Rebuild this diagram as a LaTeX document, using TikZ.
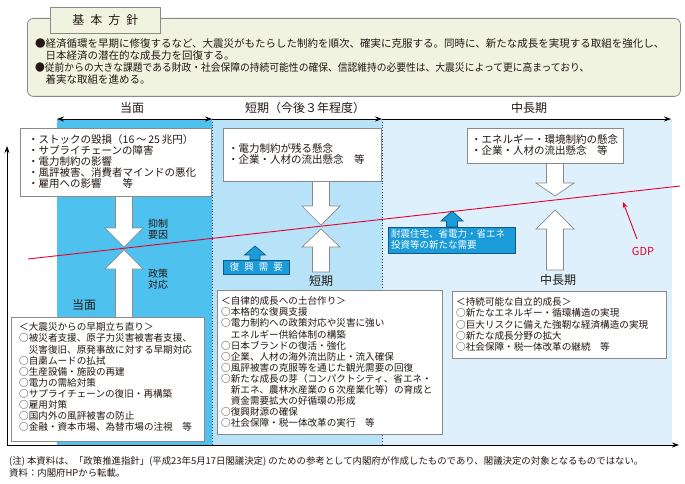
\documentclass[tikz,border=0pt]{standalone}
\usepackage{fontspec}
\setmainfont{Noto Sans CJK JP}
\usetikzlibrary{arrows.meta}
\definecolor{colA}{HTML}{4EC1EE}
\definecolor{colB}{HTML}{B7E2F8}
\definecolor{colC}{HTML}{DDF0FB}
\definecolor{topfill}{HTML}{EFF3DF}
\definecolor{boxline}{HTML}{8A8A8A}
\definecolor{navy}{HTML}{1F3C78}
\definecolor{lblue}{HTML}{1B9BD8}
\definecolor{lblueline}{HTML}{0E5A8C}
\definecolor{gdpred}{HTML}{E5002D}
\definecolor{txtc}{HTML}{231815}
\newcommand\fsz[1]{\fontsize{#1}{#1}\selectfont}
\newcommand\fatdn[4]{\draw[warrow] ({#1-8.5},#2) -- ({#1+8.5},#2) -- ({#1+8.5},#3) -- ({#1+19},#3) -- (#1,#4) -- ({#1-19},#3) -- ({#1-8.5},#3) -- cycle;}
\newcommand\fatup[4]{\draw[warrow] ({#1-8.5},#4) -- ({#1-8.5},#3) -- ({#1-19},#3) -- (#1,#2) -- ({#1+19},#3) -- ({#1+8.5},#3) -- ({#1+8.5},#4) -- cycle;}
\newcommand\blueup[6]{\draw[barrow] ({#1-#6},#4) -- ({#1-#6},#3) -- ({#1-#5},#3) -- (#1,#2) -- ({#1+#5},#3) -- ({#1+#6},#3) -- ({#1+#6},#4) -- cycle;}
\begin{document}
\begin{tikzpicture}[x=1pt,y=-1pt,
  box/.style={draw=boxline, fill=white, line width=0.8pt, inner sep=0pt, anchor=north west},
  jl/.style={anchor=base west, inner sep=0pt, text=txtc},
  lbl/.style={inner sep=0pt, text=txtc},
  warrow/.style={draw=boxline, fill=white, line width=0.7pt, line join=miter},
  barrow/.style={draw=lblueline, fill=lblue, line width=0.7pt},
  bbox/.style={draw=lblueline, fill=lblue, line width=0.7pt, inner sep=0pt, anchor=north west},
  tline/.style={line width=0.8pt, black},
  dotline/.style={navy, line width=0.8pt, dotted}]
\useasboundingbox (0,0) rectangle (685,484);
\fill[white] (0,0) rectangle (685,484);

% ---------- basic policy box ----------
\node[draw=boxline, fill=topfill, line width=0.8pt, rounded corners=6pt, inner sep=0pt,
  anchor=north west, minimum width=653pt, minimum height=78pt] (policy) at (27,18) {};
\node[draw=boxline, fill=topfill, line width=0.8pt, inner sep=0pt, anchor=north west,
  minimum width=110pt, minimum height=26pt] (tab) at (50,7) {};
\node[lbl, font=\fsz{12}] (tabt) at (tab.center) {基\hspace{6pt}本\hspace{6pt}方\hspace{6pt}針};
\node[jl, font=\fsz{10.5}] (p1) at (35,48) {●経済循環を早期に修復するなど、大震災がもたらした制約を順次、確実に克服する。同時に、新たな成長を実現する取組を強化し、};
\node[jl, font=\fsz{10.5}] (p2) at (35,60) {\hspace*{10.5pt}日本経済の潜在的な成長力を回復する。};
\node[jl, font=\fsz{10.5}] (p3) at (35,72) {\scalebox{0.93}[1]{●従前からの大きな課題である財政・社会保障の持続可能性の確保、信認維持の必要性は、大震災によって更に高まっており、}};
\node[jl, font=\fsz{10.5}] (p4) at (35,84) {\hspace*{10.5pt}着実な取組を進める。};

% ---------- background columns ----------
\fill[colA] (57,119) rectangle (212,445);
\fill[colB] (212,119) rectangle (382,445);
\fill[colC] (382,119) rectangle (672,445);
\draw[dotline] (212,119) -- (212,445);
\draw[dotline] (382,119) -- (382,445);

% ---------- time line ----------
\coordinate (t0) at (57,119);
\coordinate (t1) at (212,119);
\coordinate (t2) at (382,119);
\coordinate (t3) at (671,119);
\draw[tline, {Stealth[length=7pt,width=5pt]}-{Stealth[length=7pt,width=5pt]}] (t0) -- (t1);
\draw[tline, -{Stealth[length=7pt,width=5pt]}] (t1) -- (t2);
\draw[tline, -{Stealth[length=7pt,width=5pt]}] (t2) -- (t3);
\node[lbl, font=\fsz{12}] (h1) at (132,108) {当面};
\node[lbl, font=\fsz{12}] (h2) at (305,108) {短期（今後３年程度）};
\node[lbl, font=\fsz{12}] (h3) at (529,108) {中長期};

% ---------- axes ----------
\coordinate (o) at (7,445);
\coordinate (ytop) at (7,146);
\coordinate (xend) at (679,445);
\draw[tline, -{Stealth[length=7pt,width=5pt]}] (o) -- (ytop);
\draw[tline, -{Stealth[length=7pt,width=5pt]}] (o) -- (xend);

% ---------- white arrows ----------
\fatdn{124}{196}{228}{247}
\fatup{124}{250}{269}{318}
\fatdn{321}{181}{206}{225}
\fatup{321}{229}{247}{272}
\fatdn{555}{163}{183}{196}
\fatup{555}{210}{229}{270}

% ---------- upper boxes ----------
\node[box, minimum width=191pt, minimum height=68pt] (b1) at (20,128) {};
\foreach \t [count=\i] in {・ストックの毀損（16\,～\,25\,兆円）, ・サプライチェーンの障害, ・電力制約の影響, ・風評被害、消費者マインドの悪化, ・雇用への影響　　等}
  \node[jl, font=\fsz{10.5}] (b1l\i) at (28,{143+(\i-1)*11.2}) {\t};

\node[box, minimum width=158pt, minimum height=53pt] (b2) at (223,128) {};
\foreach \t [count=\i] in {・電力制約が残る懸念, ・企業・人材の流出懸念　等}
  \node[jl, font=\fsz{10.5}] (b2l\i) at (228,{152+(\i-1)*11.5}) {\t};

\node[box, minimum width=156pt, minimum height=35pt] (b3) at (467,128) {};
\foreach \t [count=\i] in {・エネルギー・環境制約の懸念, ・企業・人材の流出懸念　等}
  \node[jl, font=\fsz{10.5}] (b3l\i) at (471,{143+(\i-1)*11.6}) {\t};

% ---------- side labels ----------
\node[jl, font=\fsz{10}] (yk1) at (148,227) {抑制};
\node[jl, font=\fsz{10}] (yk2) at (148,238) {要因};
\node[jl, font=\fsz{10}] (sk1) at (148,277) {政策};
\node[jl, font=\fsz{10}] (sk2) at (148,288) {対応};
\node[lbl, font=\fsz{12}] (l1) at (84,305) {当面};
\node[lbl, font=\fsz{12}] (l2) at (321,281) {短期};
\node[lbl, font=\fsz{12}] (l3) at (558,280) {中長期};

% ---------- blue demand labels ----------
\blueup{255}{246}{255}{260}{10.5}{5}
\node[bbox, minimum width=66pt, minimum height=14pt] (fk) at (223,260) {};
\node[lbl, text=white, font=\fsz{9.5}] (fkt) at (fk.center) {復\hspace{5pt}興\hspace{5pt}需\hspace{5pt}要};
\blueup{452}{211}{221}{227}{11}{5.5}
\node[bbox, minimum width=127pt, minimum height=26pt] (tk) at (388,227) {};
\node[jl, text=white, font=\fsz{9.5}] (tk1) at (391,237) {耐震住宅、省電力・省エネ};
\node[jl, text=white, font=\fsz{9.5}] (tk2) at (391,248.5) {投資等の新たな需要};

% ---------- GDP line ----------
\coordinate (g0) at (28,259);
\coordinate (g1) at (680,186);
\draw[gdpred, line width=0.9pt] (g0) -- (g1);
\node[lbl, text=gdpred, font=\fsz{11}] (gdp) at (643,251) {GDP};
\coordinate (gstart) at (637,239);
\coordinate (gtip) at (623,202);
\draw[gdpred, line width=0.9pt, -{Stealth[length=6pt,width=5pt]}] (gstart) -- (gtip);

% ---------- lower boxes ----------
\node[box, minimum width=193pt, minimum height=124pt] (c1) at (11,317) {};
\foreach \t [count=\i] in {＜大震災からの早期立ち直り＞, ○被災者支援、原子力災害被害者支援、, \hspace*{9.6pt}災害復旧、原発事故に対する早期対応, ○自粛ムードの払拭, ○生産設備・施設の再建, ○電力の需給対策, ○サプライチェーンの復旧・再構築, ○雇用対策, ○国内外の風評被害の防止, ○金融・資本市場、為替市場の注視　等}
  \node[jl, font=\fsz{9.6}] (c1l\i) at (19,{330.8+(\i-1)*11.1}) {\t};

\node[box, minimum width=225pt, minimum height=144pt] (c2) at (217,290) {};
\foreach \t [count=\i] in {＜自律的成長への土台作り＞, ○本格的な復興支援, ○電力制約への政策対応や災害に強い, \hspace*{9.6pt}エネルギー供給体制の構築, ○日本ブランドの復活・強化, ○企業、人材の海外流出防止・流入確保, ○風評被害の克服等を通じた観光需要の回復, ○新たな成長の芽（コンパクトシティ、省エネ・, \hspace*{9.6pt}新エネ、農林水産業の６次産業化等）の育成と, \hspace*{9.6pt}資金需要拡大の好循環の形成, ○復興財源の確保, ○社会保障・税一体改革の実行　等}
  \node[jl, font=\fsz{9.6}] (c2l\i) at (221,{304.7+(\i-1)*11.1}) {\t};

\node[box, minimum width=214pt, minimum height=67pt] (c3) at (452,291) {};
\foreach \t [count=\i] in {＜持続可能な自立的成長＞, ○新たなエネルギー・循環構造の実現, ○巨大リスクに備えた強靭な経済構造の実現, ○新たな成長分野の拡大, ○社会保障・税一体改革の継続　等}
  \node[jl, font=\fsz{9.6}] (c3l\i) at (456,{305.7+(\i-1)*11.25}) {\t};

% ---------- footnote ----------
\node[jl, font=\fsz{9.4}] (fn1) at (9,464) {(注) 本資料は、「政策推進指針」(平成23年5月17日閣議決定) のための参考として内閣府が作成したものであり、閣議決定の対象となるものではない。};
\node[jl, font=\fsz{9.4}] (fn2) at (9,476.5) {資料：内閣府HPから転載。};
\end{tikzpicture}
\end{document}
